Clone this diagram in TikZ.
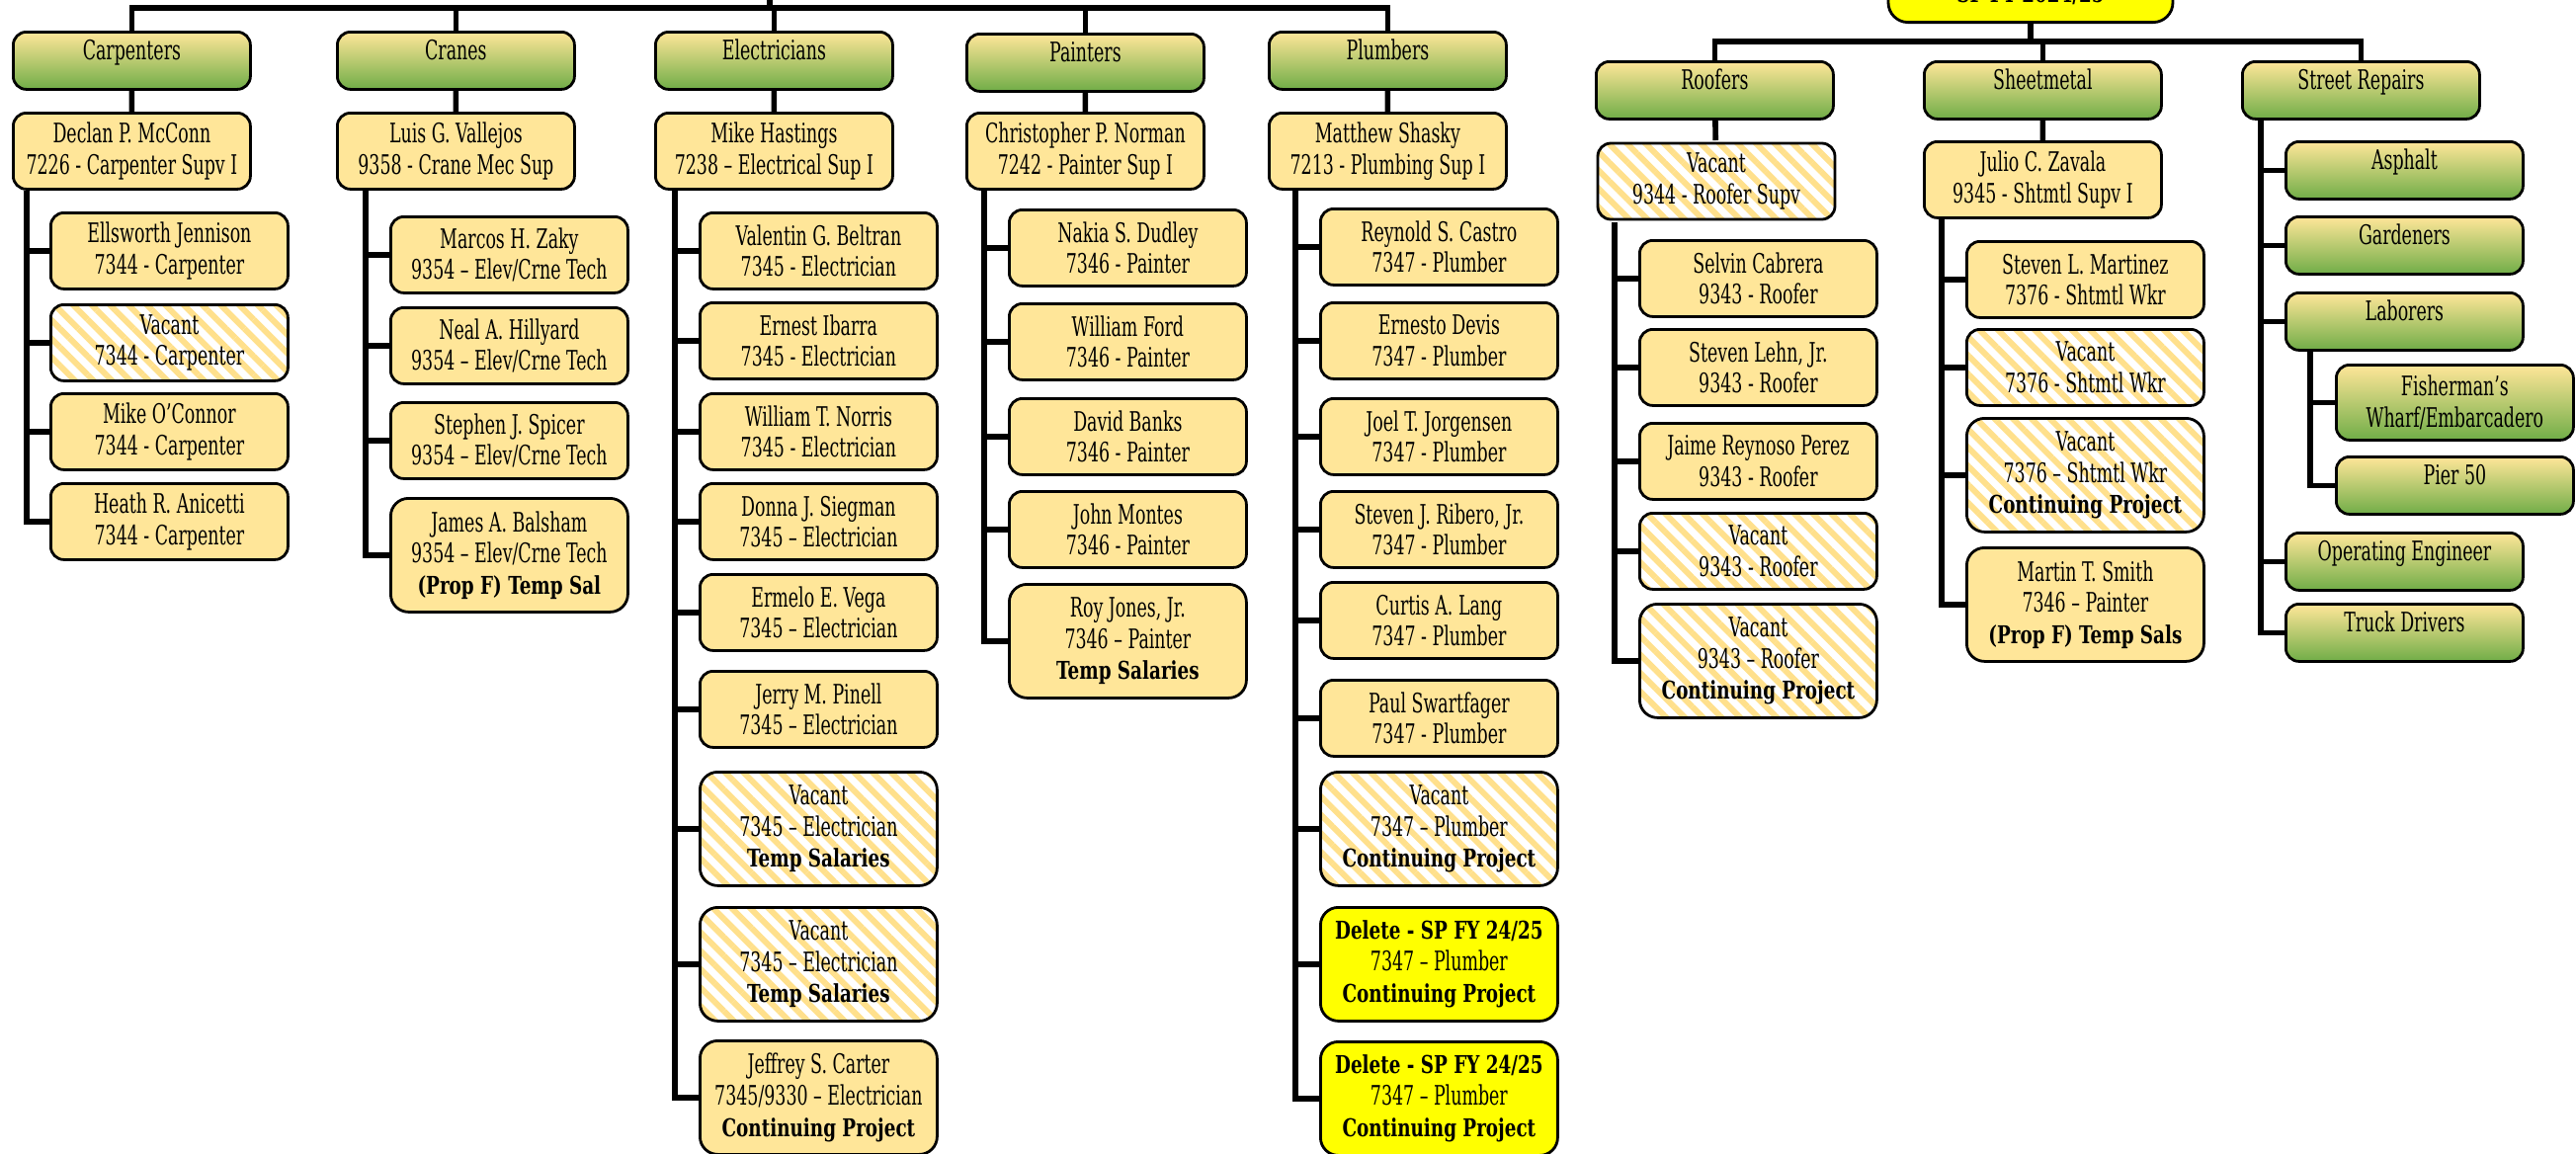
\documentclass[tikz,border=0pt]{standalone}
\usepackage{fontspec}
\setmainfont{DejaVu Serif}[FakeStretch=0.64]
\newfontfamily\wideslab{DejaVu Serif}[FakeStretch=0.74]
\usetikzlibrary{patterns.meta}

\definecolor{tan}{HTML}{FFE699}
\definecolor{hdtop}{HTML}{FFE699}
\definecolor{hdbot}{HTML}{70AD47}
\definecolor{hatch}{HTML}{FFE08C}
\definecolor{flag}{HTML}{FFFF00}

\newcommand{\note}[1]{{\wideslab\bfseries\fontsize{6.2}{7.9}\selectfont #1}}

\tikzset{
    box/.style = {
        draw=black,
        line width=0.7pt,
        rounded corners=3.3pt,
        anchor=north west,
        align=center,
        inner sep=0pt,
        minimum width=60pt,
        font=\fontsize{6.8}{7.9}\selectfont
    },
    shade/.style = {
        top color=hdtop,
        middle color=hdtop!82!hdbot,
        bottom color=hdbot
    },
    trade/.style = {
        box, shade,
        minimum height=14.5pt,
        text height=7pt,
        text depth=7.5pt
    },
    person/.style = {
        box,
        fill=tan,
        minimum height=19.25pt
    },
    vacant/.style = {
        box,
        pattern={Lines[angle=-45,distance=3.3pt,line width=1.5pt]},
        pattern color=hatch,
        minimum height=19.25pt
    },
    deleted/.style = {
        box,
        fill=flag,
        minimum height=28.75pt
    },
    tall/.style = {
        minimum height=28.75pt,
        rounded corners=4.5pt
    },
    link/.style = {
        line width=1.4pt,
        black
    }
}

\begin{document}
\begin{tikzpicture}[x=0.25pt, y=-0.25pt]
    \useasboundingbox (0,0) rectangle (2607,1168);

    % Draw trades and supervisors
    \node[trade] (carp) at (12,31)   {Carpenters};
    \node[trade] (cran) at (340,31)  {Cranes};
    \node[trade] (elec) at (662,31)  {Electricians};
    \node[trade] (pntr) at (977,33)  {Painters};
    \node[trade] (plmb) at (1283,31) {Plumbers};
    \node[trade] (roof) at (1614,61) {Roofers};
    \node[trade] (shmt) at (1946,61) {Sheetmetal};
    \node[trade] (strt) at (2268,61) {Street Repairs};

    \node[box, fill=flag, anchor=south, minimum width=72pt, rounded corners=5pt,
          text height=14pt, text depth=5pt] (root) at (2055,24) {\note{SP FY 2024/25}};

    \node[person] (carpSup) at (12,113)   {Declan P. McConn\\7226 - Carpenter Supv I};
    \node[person] (cranSup) at (340,113)  {Luis G. Vallejos\\9358 - Crane Mec Sup};
    \node[person] (elecSup) at (662,113)  {Mike Hastings\\7238 -- Electrical Sup I};
    \node[person] (pntrSup) at (977,113)  {Christopher P. Norman\\7242 - Painter Sup I};
    \node[person] (plmbSup) at (1283,113) {Matthew Shasky\\7213 - Plumbing Sup I};
    \node[vacant] (roofSup) at (1614,142) {Vacant\\9344 - Roofer Supv};
    \node[person] (shmtSup) at (1946,142) {Julio C. Zavala\\9345 - Shtmtl Supv I};

    % Carpenters
    \node[person] (carp1) at (50,214) {Ellsworth Jennison\\7344 - Carpenter};
    \node[vacant] (carp2) at (50,307) {Vacant\\7344 - Carpenter};
    \node[person] (carp3) at (50,397) {Mike O'Connor\\7344 - Carpenter};
    \node[person] (carp4) at (50,488) {Heath R. Anicetti\\7344 - Carpenter};

    % Cranes
    \node[person] (cran1) at (394,218) {Marcos H. Zaky\\9354 -- Elev/Crne Tech};
    \node[person] (cran2) at (394,310) {Neal A. Hillyard\\9354 -- Elev/Crne Tech};
    \node[person] (cran3) at (394,406) {Stephen J. Spicer\\9354 -- Elev/Crne Tech};
    \node[person, tall] (cran4) at (394,503) {James A. Balsham\\9354 -- Elev/Crne Tech\\\note{(Prop F) Temp Sal}};

    % Electricians
    \node[person] (elec1) at (707,214) {Valentin G. Beltran\\7345 - Electrician};
    \node[person] (elec2) at (707,305) {Ernest Ibarra\\7345 - Electrician};
    \node[person] (elec3) at (707,397) {William T. Norris\\7345 - Electrician};
    \node[person] (elec4) at (707,488) {Donna J. Siegman\\7345 -- Electrician};
    \node[person] (elec5) at (707,580) {Ermelo E. Vega\\7345 -- Electrician};
    \node[person] (elec6) at (707,678) {Jerry M. Pinell\\7345 -- Electrician};
    \node[vacant, tall] (elec7) at (707,780) {Vacant\\7345 -- Electrician\\\note{Temp Salaries}};
    \node[vacant, tall] (elec8) at (707,917) {Vacant\\7345 -- Electrician\\\note{Temp Salaries}};
    \node[person, tall] (elec9) at (707,1052) {Jeffrey S. Carter\\7345/9330 -- Electrician\\\note{Continuing Project}};

    % Painters
    \node[person] (pntr1) at (1020,211) {Nakia S. Dudley\\7346 - Painter};
    \node[person] (pntr2) at (1020,306) {William Ford\\7346 - Painter};
    \node[person] (pntr3) at (1020,402) {David Banks\\7346 - Painter};
    \node[person] (pntr4) at (1020,496) {John Montes\\7346 - Painter};
    \node[person, tall] (pntr5) at (1020,590) {Roy Jones, Jr.\\7346 -- Painter\\\note{Temp Salaries}};

    % Plumbers
    \node[person] (plmb1) at (1335,210) {Reynold S. Castro\\7347 - Plumber};
    \node[person] (plmb2) at (1335,305) {Ernesto Devis\\7347 - Plumber};
    \node[person] (plmb3) at (1335,402) {Joel T. Jorgensen\\7347 - Plumber};
    \node[person] (plmb4) at (1335,496) {Steven J. Ribero, Jr.\\7347 - Plumber};
    \node[person] (plmb5) at (1335,588) {Curtis A. Lang\\7347 - Plumber};
    \node[person] (plmb6) at (1335,687) {Paul Swartfager\\7347 - Plumber};
    \node[vacant, tall] (plmb7) at (1335,780) {Vacant\\7347 -- Plumber\\\note{Continuing Project}};
    \node[deleted, tall] (plmb8) at (1335,917) {\note{Delete - SP FY 24/25}\\7347 -- Plumber\\\note{Continuing Project}};
    \node[deleted, tall] (plmb9) at (1335,1053) {\note{Delete - SP FY 24/25}\\7347 -- Plumber\\\note{Continuing Project}};

    % Roofers
    \node[person] (roof1) at (1658,242) {Selvin Cabrera\\9343 - Roofer};
    \node[person] (roof2) at (1658,332) {Steven Lehn, Jr.\\9343 - Roofer};
    \node[person] (roof3) at (1658,427) {Jaime Reynoso Perez\\9343 - Roofer};
    \node[vacant] (roof4) at (1658,518) {Vacant\\9343 - Roofer};
    \node[vacant, tall] (roof5) at (1658,610) {Vacant\\9343 -- Roofer\\\note{Continuing Project}};

    % Sheetmetal
    \node[person] (shmt1) at (1989,243) {Steven L. Martinez\\7376 - Shtmtl Wkr};
    \node[vacant] (shmt2) at (1989,332) {Vacant\\7376 - Shtmtl Wkr};
    \node[vacant, tall] (shmt3) at (1989,422) {Vacant\\7376 -- Shtmtl Wkr\\\note{Continuing Project}};
    \node[person, tall] (shmt4) at (1989,553) {Martin T. Smith\\7346 -- Painter\\\note{(Prop F) Temp Sals}};

    % Street Repairs
    \node[trade] (strt1) at (2312,142) {Asphalt};
    \node[trade] (strt2) at (2312,218) {Gardeners};
    \node[trade] (strt3) at (2312,295) {Laborers};
    \node[box, shade, minimum height=19pt] (labr1) at (2363,368) {Fisherman's\\Wharf/Embarcadero};
    \node[trade] (labr2) at (2363,461) {Pier 50};
    \node[trade] (strt4) at (2312,538) {Operating Engineer};
    \node[trade] (strt5) at (2312,610) {Truck Drivers};

    % Draw top bars
    \coordinate (topbar) at (779,8);
    \coordinate (topin) at (779,-10);
    \coordinate (midbar) at (2055,42);
    \draw[link] (topin) -- (topbar);
    \draw[link] (carp.north) |- (topbar) -| (plmb.north);
    \draw[link] (cran.north) -- (cran.north |- topbar)
                (elec.north) -- (elec.north |- topbar)
                (pntr.north) -- (pntr.north |- topbar);
    \draw[link] (root.south) -- (midbar);
    \draw[link] (roof.north) |- (midbar) -| (strt.north);
    \draw[link] (shmt.north) -- (shmt.north |- midbar);

    % Draw trade to supervisor
    \draw[link] (carp) -- (carpSup) (cran) -- (cranSup) (elec) -- (elecSup)
                (pntr) -- (pntrSup) (plmb) -- (plmbSup) (roof) -- (roofSup)
                (shmt) -- (shmtSup);

    % Draw spines
    \coordinate (carpS) at ([xshift=3.75pt]carpSup.south west);
    \coordinate (cranS) at ([xshift=7.5pt]cranSup.south west);
    \coordinate (elecS) at ([xshift=5.25pt]elecSup.south west);
    \coordinate (pntrS) at ([xshift=4.75pt]pntrSup.south west);
    \coordinate (plmbS) at ([xshift=7pt]plmbSup.south west);
    \coordinate (roofS) at ([xshift=5pt]roofSup.south west);
    \coordinate (shmtS) at ([xshift=4.75pt]shmtSup.south west);
    \coordinate (strtS) at ([xshift=5pt]strt.south west);
    \coordinate (labrS) at ([xshift=6.5pt]strt3.south west);

    \draw[link] (carpS) |- (carp1.west) (carpS) |- (carp2.west) (carpS) |- (carp3.west)
                (carpS) |- (carp4.west);
    \draw[link] (cranS) |- (cran1.west) (cranS) |- (cran2.west) (cranS) |- (cran3.west)
                (cranS) |- (cran4.west);
    \draw[link] (elecS) |- (elec1.west) (elecS) |- (elec2.west) (elecS) |- (elec3.west)
                (elecS) |- (elec4.west) (elecS) |- (elec5.west) (elecS) |- (elec6.west)
                (elecS) |- (elec7.west) (elecS) |- (elec8.west) (elecS) |- (elec9.west);
    \draw[link] (pntrS) |- (pntr1.west) (pntrS) |- (pntr2.west) (pntrS) |- (pntr3.west)
                (pntrS) |- (pntr4.west) (pntrS) |- (pntr5.west);
    \draw[link] (plmbS) |- (plmb1.west) (plmbS) |- (plmb2.west) (plmbS) |- (plmb3.west)
                (plmbS) |- (plmb4.west) (plmbS) |- (plmb5.west) (plmbS) |- (plmb6.west)
                (plmbS) |- (plmb7.west) (plmbS) |- (plmb8.west) (plmbS) |- (plmb9.west);
    \draw[link] (roofS) |- (roof1.west) (roofS) |- (roof2.west) (roofS) |- (roof3.west)
                (roofS) |- (roof4.west) (roofS) |- (roof5.west);
    \draw[link] (shmtS) |- (shmt1.west) (shmtS) |- (shmt2.west) (shmtS) |- (shmt3.west)
                (shmtS) |- (shmt4.west);
    \draw[link] (strtS) |- (strt1.west) (strtS) |- (strt2.west) (strtS) |- (strt3.west)
                (strtS) |- (strt4.west) (strtS) |- (strt5.west);
    \draw[link] (labrS) |- (labr1.west) (labrS) |- (labr2.west);
\end{tikzpicture}
\end{document}
